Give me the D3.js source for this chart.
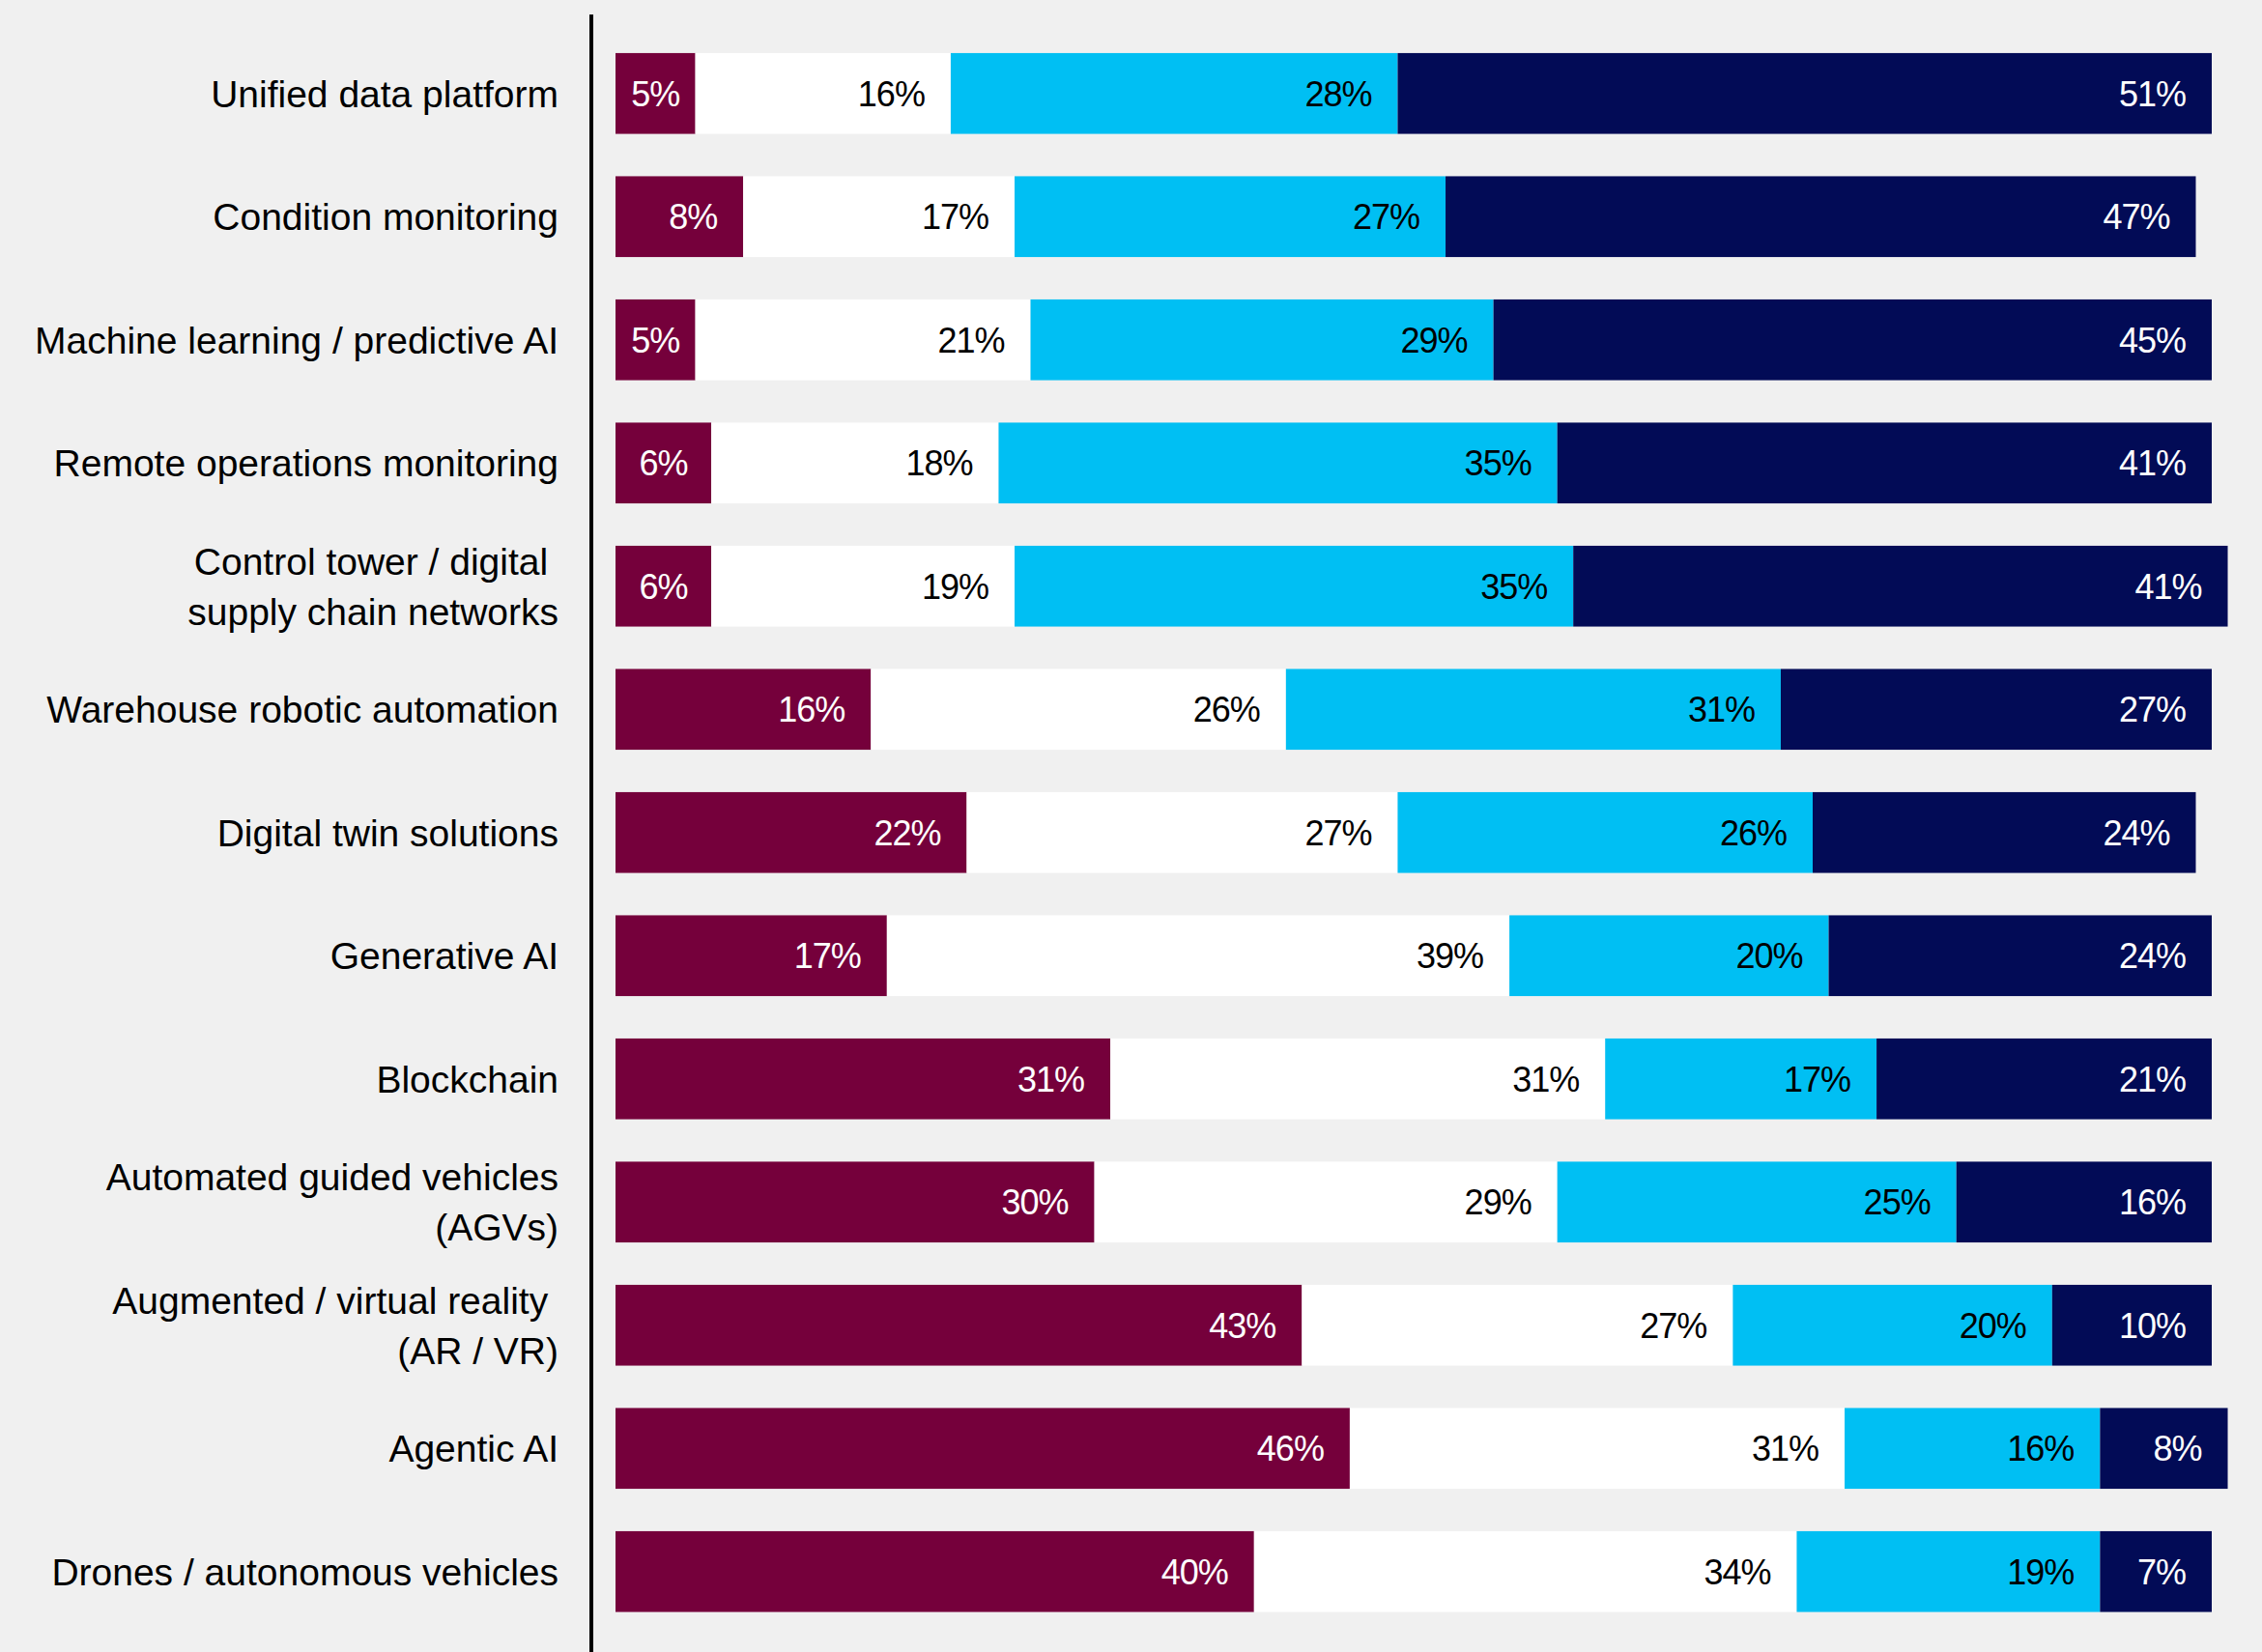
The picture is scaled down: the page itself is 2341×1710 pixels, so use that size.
<!DOCTYPE html>
<html>
<head>
<meta charset="utf-8">
<script src="https://cdn.jsdelivr.net/npm/d3@7"></script>
<style>
  body { margin: 0; background: #f0f0f0; }
  svg { display: block; }
  text { font-family: "Liberation Sans", Arial, sans-serif; }
</style>
</head>
<body>
<script>
// categories, top to bottom (multi-line labels split with |)
let categories = [
    "Unified data platform",
    "Condition monitoring",
    "Machine learning / predictive AI",
    "Remote operations monitoring",
    "Control tower / digital |supply chain networks",
    "Warehouse robotic automation",
    "Digital twin solutions",
    "Generative AI",
    "Blockchain",
    "Automated guided vehicles|(AGVs)",
    "Augmented / virtual reality |(AR / VR)",
    "Agentic AI",
    "Drones / autonomous vehicles"
]

// the four stacked shares, left to right (percent)
let share1 = [5, 8, 5, 6, 6, 16, 22, 17, 31, 30, 43, 46, 40]
let share2 = [16, 17, 21, 18, 19, 26, 27, 39, 31, 29, 27, 31, 34]
let share3 = [28, 27, 29, 35, 35, 31, 26, 20, 17, 25, 20, 16, 19]
let share4 = [51, 47, 45, 41, 41, 27, 24, 24, 21, 16, 10, 8, 7]

let keys = ["share1", "share2", "share3", "share4"]
let fills = ["#75003b", "#ffffff", "#00bff3", "#020b56"]
let inks = ["#ffffff", "#000000", "#000000", "#ffffff"]

let width = 2341,
    height = 1710

let rows = categories.map((c, i) => ({
    category: c,
    share1: share1[i],
    share2: share2[i],
    share3: share3[i],
    share4: share4[i]
}))

let svg = d3.select("body").append("svg")
    .attr("width", width)
    .attr("height", height)

let x = d3.scaleLinear()
    .domain([0, 100])
    .range([637, 637 + 1652])

let y = d3.scaleBand()
    .domain(categories)
    .range([33, 33 + 13 * 127.5])
    .paddingInner(0.344)
    .paddingOuter(0.172)

let stack = d3.stack().keys(keys)(rows)

// bars
let layers = svg.append("g")
    .selectAll("g")
    .data(stack)
    .enter()
    .append("g")
    .attr("fill", (d, i) => fills[i])

layers.selectAll("rect")
    .data(d => d)
    .enter()
    .append("rect")
    .attr("x", d => x(d[0]))
    .attr("y", d => y(d.data.category))
    .attr("width", d => x(d[1]) - x(d[0]))
    .attr("height", y.bandwidth())

// value labels: right aligned in the segment, centred when the segment is narrow
let pad = 27
layers.each(function(layer, li) {
    d3.select(this).selectAll("text")
        .data(layer)
        .enter()
        .append("text")
        .attr("y", d => y(d.data.category) + y.bandwidth() / 2)
        .attr("dy", "0.36em")
        .attr("fill", inks[li])
        .style("font-size", "36px")
        .style("letter-spacing", "-1px")
        .text(d => d.data[layer.key] + "%")
        .each(function(d) {
            let t = d3.select(this)
            let w = this.getComputedTextLength()
            let x0 = x(d[0]), x1 = x(d[1])
            if (x1 - x0 < w + 2 * pad) {
                t.attr("x", (x0 + x1) / 2).attr("text-anchor", "middle")
            } else {
                t.attr("x", x1 - pad).attr("text-anchor", "end")
            }
        })
})

// category labels via a left axis, then split into lines
let axis = svg.append("g")
    .attr("transform", "translate(612,0)")
    .call(d3.axisLeft(y).tickSize(0).tickPadding(34))

axis.select(".domain").remove()

axis.selectAll(".tick text")
    .attr("fill", "#000")
    .style("font-size", "39px")
    .style("font-family", "'Liberation Sans', Arial, sans-serif")
    .style("white-space", "pre")
    .attr("dy", null)
    .each(function(d) {
        let lines = d.split("|")
        let t = d3.select(this).text(null)
        let lh = 52
        lines.forEach((line, i) => {
            t.append("tspan")
                .attr("x", -34)
                .attr("y", (i - (lines.length - 1) / 2) * lh)
                .attr("dy", "0.36em")
                .text(line)
        })
    })

// vertical rule
svg.append("line")
    .attr("x1", 612)
    .attr("x2", 612)
    .attr("y1", 15)
    .attr("y2", height)
    .attr("stroke", "#000")
    .attr("stroke-width", 4)
</script>
</body>
</html>
